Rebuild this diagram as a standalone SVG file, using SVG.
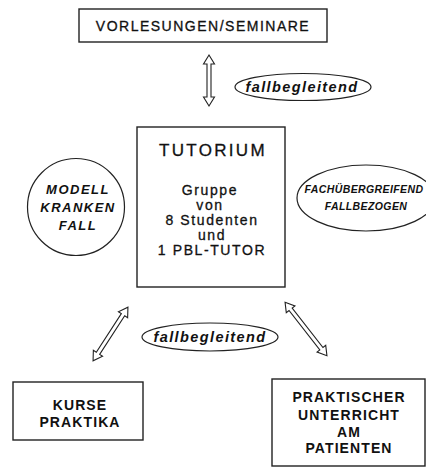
<svg xmlns="http://www.w3.org/2000/svg" width="426" height="468" viewBox="0 0 426 468">
<style>
  .box { fill: #fff; stroke: #222; stroke-width: 1.4; }
  .ell { fill: #fff; stroke: #222; stroke-width: 1.2; }
  .arr { fill: #fff; stroke: #222; stroke-width: 1.1; stroke-linejoin: miter; }
  text { font-family: "Liberation Sans", Arial, sans-serif; fill: #111; text-anchor: middle; }
  .med { stroke: #111; stroke-width: 0.3; }
  .t1 { font-size: 14px; letter-spacing: 1.5px; }
  .tut { font-size: 17px; letter-spacing: 2.3px; }
  .grp { font-size: 14px; letter-spacing: 1.6px; }
  .bi { font-weight: bold; font-style: italic; }
  .lab { font-size: 14.5px; letter-spacing: 1.4px; }
  .circ { font-size: 13px; letter-spacing: 1.5px; }
  .small { font-size: 10.5px; letter-spacing: 0.4px; }
  .bb { font-weight: bold; font-size: 14px; letter-spacing: 1.1px; }
</style>
<rect width="426" height="468" fill="#fff"/>

<g id="connectors">
  <polygon class="arr" transform="translate(209,80.5) rotate(90)" points="-25.5,0 -16.5,-5.5 -16.5,-2 16.5,-2 16.5,-5.5 25.5,0 16.5,5.5 16.5,2 -16.5,2 -16.5,5.5"/>
  <polygon class="arr" transform="translate(110.5,334) rotate(123)" points="-32,0 -23,-5.5 -23,-2 23,-2 23,-5.5 32,0 23,5.5 23,2 -23,2 -23,5.5"/>
  <polygon class="arr" transform="translate(306,329) rotate(52)" points="-34,0 -25,-5.5 -25,-2 25,-2 25,-5.5 34,0 25,5.5 25,2 -25,2 -25,5.5"/>
</g>

<g id="vorlesungen">
  <rect class="box" x="79" y="9" width="248" height="33"/>
  <text class="t1 med" x="203" y="31">VORLESUNGEN/SEMINARE</text>
</g>

<g id="label-top">
  <ellipse class="ell" cx="303" cy="87" rx="68" ry="13.5"/>
  <text class="bi lab" x="302" y="92">fallbegleitend</text>
</g>

<g id="tutorium">
  <rect class="box" x="137" y="127" width="148" height="160"/>
  <text class="tut med" x="213" y="156">TUTORIUM</text>
  <text class="grp med" x="210" y="195">Gruppe</text>
  <text class="grp med" x="210" y="210">von</text>
  <text class="grp med" x="212" y="225">8 Studenten</text>
  <text class="grp med" x="212" y="240">und</text>
  <text class="grp med" x="212" y="255">1 PBL-TUTOR</text>
</g>

<g id="modellfall">
  <circle class="ell" cx="76" cy="207" r="48.5"/>
  <text class="bi circ" x="78" y="194">MODELL</text>
  <text class="bi circ" x="78" y="212">KRANKEN</text>
  <text class="bi circ" x="78" y="230">FALL</text>
</g>

<g id="fachuebergreifend">
  <ellipse class="ell" cx="366" cy="198" rx="69" ry="33"/>
  <text class="bi small" x="364" y="193">FACHÜBERGREIFEND</text>
  <text class="bi small" x="366" y="210">FALLBEZOGEN</text>
</g>

<g id="label-bottom">
  <ellipse class="ell" cx="210" cy="337" rx="68" ry="14"/>
  <text class="bi lab" x="210" y="342">fallbegleitend</text>
</g>

<g id="kurse">
  <rect class="box" x="13" y="382" width="130" height="58"/>
  <text class="bb" x="80" y="410">KURSE</text>
  <text class="bb" x="80" y="427">PRAKTIKA</text>
</g>

<g id="praktischer">
  <rect class="box" x="272" y="379" width="153" height="87"/>
  <text class="bb" x="349" y="402">PRAKTISCHER</text>
  <text class="bb" x="349" y="420">UNTERRICHT</text>
  <text class="bb" x="349" y="437">AM</text>
  <text class="bb" x="349" y="453">PATIENTEN</text>
</g>
</svg>
